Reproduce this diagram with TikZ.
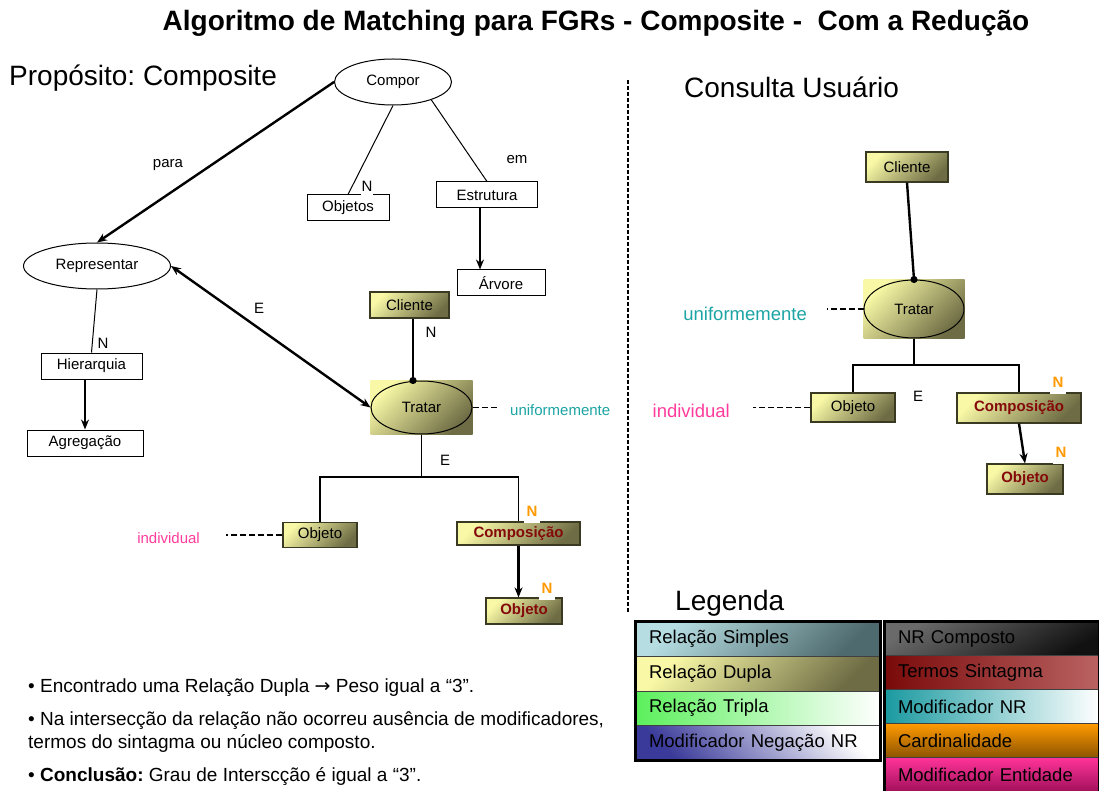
\documentclass[tikz,border=0pt]{standalone}
\usepackage{fontspec}
\setmainfont{Liberation Sans}
\newfontfamily\simbolo{DejaVu Sans}
\usetikzlibrary{arrows.meta,shapes.geometric,backgrounds,positioning}
\frenchspacing

\definecolor{duplaTop}{HTML}{F8F8A6}
\definecolor{duplaBot}{HTML}{6E6C44}
\definecolor{duplaEdge}{HTML}{3A3A22}
\definecolor{termoText}{HTML}{840A0A}
\definecolor{cardOrange}{HTML}{FF9A00}
\definecolor{modTeal}{HTML}{1CA3A3}
\definecolor{entPink}{HTML}{FF3C9B}
\definecolor{simplesTop}{HTML}{B6DEE2}
\definecolor{simplesBot}{HTML}{4E6A6E}
\definecolor{triplaL}{HTML}{5CF05C}
\definecolor{negacaoB}{HTML}{3A3A9A}
\definecolor{compostoTop}{HTML}{6A6A6A}
\definecolor{compostoBot}{HTML}{111111}
\definecolor{termosL}{HTML}{7A0A0A}
\definecolor{termosR}{HTML}{BA6262}
\definecolor{modnrL}{HTML}{1A9AA0}
\definecolor{cardTop}{HTML}{FF9A00}
\definecolor{cardBot}{HTML}{8A5200}
\definecolor{entTop}{HTML}{FF3399}
\definecolor{entBot}{HTML}{A0105A}

\begin{document}
\begin{tikzpicture}[x=1pt, y=-1pt, >={Stealth[length=10pt,width=8pt]},
    txt/.style={font=\fontsize{15}{18}\selectfont, inner sep=1pt},
    big/.style={font=\fontsize{28}{33}\selectfont, inner sep=0pt, anchor=west},
    wbox/.style={txt, draw, fill=white, line width=1pt, inner sep=0pt, minimum height=26pt},
    dupla/.style={top color=duplaTop, bottom color=duplaBot, shading angle=45},
    dbox/.style={wbox, dupla, draw=duplaEdge, line width=1.2pt},
    termo/.style={font=\fontsize{15}{18}\selectfont\bfseries, text=termoText},
    rel/.style={ellipse, draw, line width=1pt, inner sep=0pt, txt},
    fino/.style={line width=1pt},
    ramo/.style={line width=1.3pt},
    grosso/.style={line width=2.4pt},
    ligado/.style={grosso, -{Circle[length=7pt]}, shorten >=-3.5pt},
    pontilhado/.style={dash pattern=on 6pt off 3pt, line width=1.8pt},
    separador/.style={dash pattern=on 4pt off 2pt, line width=1.6pt},
    card/.style={font=\fontsize{15}{18}\selectfont\bfseries, text=cardOrange, fill=white, inner xsep=3pt, inner ysep=6.5pt},
    modnr/.style={txt, text=modTeal},
    moden/.style={txt, text=entPink},
    legrow/.style={draw=black!75, line width=0.8pt, font=\fontsize{18.5}{22}\selectfont, inner xsep=13pt, inner ysep=0pt, align=left, minimum height=34.5pt},
    bullet/.style={font=\fontsize{19}{23}\selectfont, anchor=west, inner sep=0pt, align=left},
  ]
  \useasboundingbox (0,0) rectangle (1099,791);

  % Titles
  \node[font=\fontsize{28}{33}\selectfont\bfseries, inner sep=0pt] (titulo) at (596,23) {Algoritmo de Matching para FGRs - Composite - \ Com a Redução};
  \node[big] (proposito) at (9,78) {Propósito: Composite};
  \node[big] (consulta) at (684,87) {Consulta Usuário};

  % Proposito: relations and terms
  \node[rel, minimum width=117pt, minimum height=46pt] (compor) at (393,82) {Compor};
  \node[rel, minimum width=147pt, minimum height=46pt] (representar) at (97,266) {Representar};
  \node[wbox, minimum width=82pt] (objetos) at (348,208) {Objetos};
  \node[wbox, minimum width=101pt] (estrutura) at (487,195) {Estrutura};
  \node[wbox, minimum width=88pt] (arvore) at (501,283) {Árvore};
  \node[wbox, minimum width=101pt] (hierarquia) at (91.5,366) {Hierarquia};
  \node[wbox, minimum width=116pt] (agregacao) at (85,443) {Agregação};
  \node[dbox, minimum width=79pt] (cliL) at (409.5,305) {Cliente};
  \node[rel, minimum width=101pt, minimum height=53pt] (tratarL) at (421.5,407.5) {Tratar};
  \node[dbox, minimum width=74pt, minimum height=25pt] (objL) at (320,535) {Objeto};
  \node[dbox, termo, minimum width=123pt, minimum height=23pt] (compL) at (518.5,533.5) {Composição};
  \node[dbox, termo, minimum width=76pt] (objL2) at (524,611) {Objeto};

  % Consulta: relations and terms
  \node[dbox, minimum width=82pt, minimum height=30pt] (cliR) at (907,167) {Cliente};
  \node[rel, minimum width=100pt, minimum height=58pt] (tratarR) at (914,309) {Tratar};
  \node[dbox, minimum width=84pt, minimum height=29pt] (objR) at (853,407.5) {Objeto};
  \node[dbox, termo, minimum width=124pt, minimum height=30pt] (compR) at (1019,408) {Composição};
  \node[dbox, termo, minimum width=76pt, minimum height=30pt] (objR2) at (1025,479) {Objeto};

  \begin{scope}[on background layer]
    \shade[dupla] (tratarL.west |- tratarL.north) rectangle (tratarL.east |- tratarL.south);
    \shade[dupla] (tratarR.west |- tratarR.north) rectangle (tratarR.east |- tratarR.south);
  \end{scope}

  % Connections (proposito)
  \draw[grosso,->] (compor.west) -- (representar.north);
  \draw[fino] (compor.south) -- (objetos.north);
  \draw[fino] (compor.-25) -- (estrutura.north);
  \draw[grosso,->] ([xshift=-7pt]estrutura.south) -- ([xshift=-7pt]estrutura.south |- arvore.north);
  \draw[fino] (representar.south) -- (hierarquia.north);
  \draw[grosso,->] (hierarquia.south -| agregacao.north) -- (agregacao.north);
  \draw[grosso,<->] (representar.east) -- (tratarL.west);
  \draw[ligado] ([xshift=3.5pt]cliL.south) -- ([xshift=3.5pt]cliL.south |- tratarL.north);
  \coordinate (ramoL) at (421.5,477);
  \draw[ramo] (tratarL.south) -- (ramoL);
  \draw[ramo] (objL.north) |- (ramoL) -| (compL.north);
  \draw[grosso,->] (compL.south) -- (compL.south |- objL2.north);

  % Connections (consulta)
  \draw[ligado] (cliR.south) -- (tratarR.north);
  \coordinate (ramoR) at (914,365);
  \draw[ramo] (tratarR.south) -- (ramoR);
  \draw[ramo] (objR.north) |- (ramoR) -| (compR.north);
  \draw[grosso,->] (compR.south) -- (objR2.north);

  % Modifiers
  \node[modnr, anchor=west, inner xsep=12pt] (uniL) at (498,410) {uniformemente};
  \draw[pontilhado] (tratarL.east) -- (tratarL.east -| uniL.west);
  \node[moden, anchor=east, inner xsep=26pt] (indL) at (226,538) {individual};
  \draw[pontilhado] (objL.west) -- (objL.west -| indL.east);
  \node[modnr, anchor=east, inner xsep=20pt, font=\fontsize{18.5}{22}\selectfont] (uniR) at (827,314) {uniformemente};
  \draw[pontilhado] (tratarR.west) -- (tratarR.west -| uniR.east);
  \node[moden, anchor=east, inner xsep=23pt, font=\fontsize{18.5}{22}\selectfont] (indR) at (753,411) {individual};
  \draw[pontilhado] (objR.west) -- (objR.west -| indR.east);

  % Labels
  \node[txt] (para) at (168,165) {para};
  \node[txt] (em) at (517,160) {em};
  \node[txt, fill=white, inner ysep=5pt] (nObjetos) at (367,186) {N};
  \node[txt, fill=white, inner ysep=5pt] (nHier) at (103,343) {N};
  \node[txt] (eRep) at (259,308) {E};
  \node[txt] (nCli) at (431,332) {N};
  \node[txt] (eTratarL) at (445,460) {E};
  \node[card] (nCompL) at (532,511) {N};
  \node[card] (nObjL2) at (547,588) {N};
  \node[txt] (eTratarR) at (918,396) {E};
  \node[card] (nCompR) at (1058,382) {N};
  \node[card] (nObjR2) at (1061,452) {N};

  % Separator
  \coordinate (sepTop) at (628,80);
  \coordinate (sepBot) at (628,612);
  \draw[separador] (sepTop) -- (sepBot);

  % Legend
  \node[big] (legenda) at (675,603) {Legenda};
  \node[legrow, text width=218pt, top color=simplesTop, bottom color=simplesBot, shading angle=45] (lgSimples) at (758,639.25) {Relação Simples};
  \node[legrow, text width=218pt, dupla] (lgDupla) at (758,673.75) {Relação Dupla};
  \node[legrow, text width=218pt, left color=triplaL, right color=white] (lgTripla) at (758,708.25) {Relação Tripla};
  \node[legrow, text width=218pt, top color=white, bottom color=negacaoB, shading angle=-45] (lgNegacao) at (758,742.75) {Modificador Negação NR};
  \draw[line width=3pt] (lgSimples.north west) rectangle (lgNegacao.south east);

  \node[legrow, text width=188pt, top color=compostoTop, bottom color=compostoBot, shading angle=30] (lgComposto) at (992,639) {NR Composto};
  \node[legrow, text width=188pt, left color=termosL, right color=termosR] (lgTermos) at (992,673) {Termos Sintagma};
  \node[legrow, text width=188pt, left color=modnrL, right color=white] (lgModNR) at (992,707) {Modificador NR};
  \node[legrow, text width=188pt, top color=cardTop, bottom color=cardBot] (lgCard) at (992,741) {Cardinalidade};
  \node[legrow, text width=188pt, top color=entTop, bottom color=entBot] (lgEntidade) at (992,775) {Modificador Entidade};
  \draw[line width=3pt] (lgComposto.north west) rectangle (lgEntidade.south east);

  % Notes
  \node[bullet] (nota1) at (28,688) {• Encontrado uma Relação Dupla {\simbolo →} Peso igual a “3”.};
  \node[bullet] (nota2) at (28,732.5) {• Na intersecção da relação não ocorreu ausência de modificadores,\\termos do sintagma ou núcleo composto.};
  \node[bullet] (nota3) at (28,777) {• \textbf{Conclusão:} Grau de Interscção é igual a “3”.};
\end{tikzpicture}
\end{document}
